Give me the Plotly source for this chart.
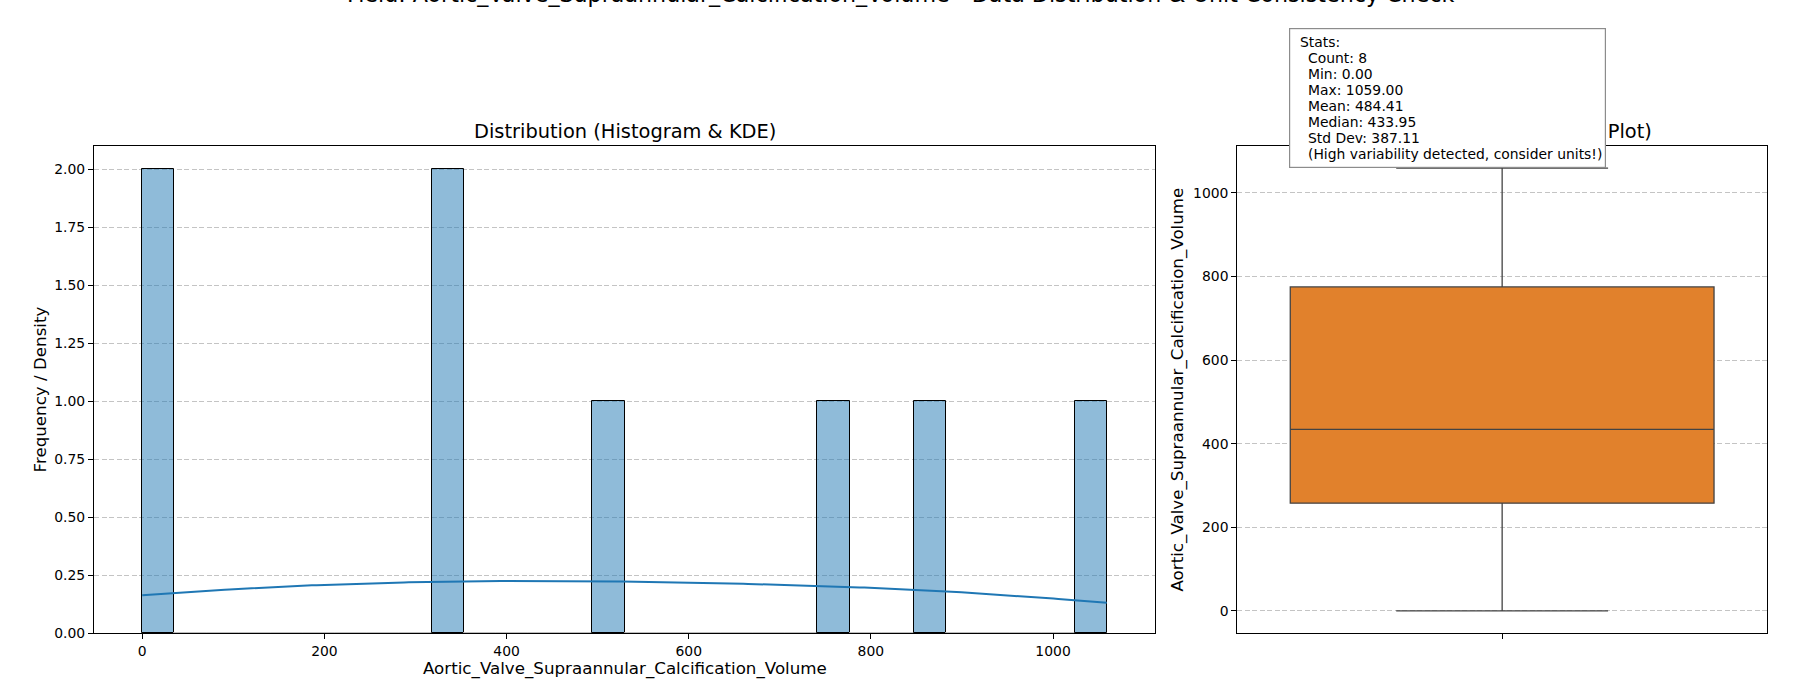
import numpy as np
import plotly.graph_objects as go

# ---------------- data ----------------
field = "Aortic_Valve_Supraannular_Calcification_Volume"
values = [0.0, 0.0, 343.6, 343.8, 524.1, 747.1, 857.7, 1059.0]
n_bins = 30
main_title = f"Field: {field} - Data Distribution & Unit Consistency Check"
hist_title = "Distribution (Histogram & KDE)"
box_title = "Variability & Outliers (Box Plot)"
hist_ylabel = "Frequency / Density"
warning_text = "(High variability detected, consider units!)"

# ---------------- derived ----------------
arr = np.array(values, dtype=float)
n = len(arr)
counts, edges = np.histogram(arr, bins=n_bins, range=(arr.min(), arr.max()))
centers = (edges[:-1] + edges[1:]) / 2
bw = edges[1] - edges[0]

std = arr.std(ddof=1)
h = std * n ** (-1 / 5)  # Scott's rule
xs = np.linspace(arr.min(), arr.max(), 200)
dens = np.exp(-0.5 * ((xs[:, None] - arr[None, :]) / h) ** 2).sum(1) / (n * h * np.sqrt(2 * np.pi))
kde = dens * n * bw

q1, med, q3 = np.percentile(arr, [25, 50, 75])
iqr = q3 - q1
lo = arr[arr >= q1 - 1.5 * iqr].min()
hi = arr[arr <= q3 + 1.5 * iqr].max()

span = arr.max() - arr.min()
xr = [arr.min() - 0.05 * span, arr.max() + 0.05 * span]
yr_hist = [0, counts.max() * 1.05]

stats_lines = [
    "Stats:",
    f"Count: {n}",
    f"Min: {arr.min():.2f}",
    f"Max: {arr.max():.2f}",
    f"Mean: {arr.mean():.2f}",
    f"Median: {np.median(arr):.2f}",
    f"Std Dev: {std:.2f}",
    warning_text,
]

# ---------------- layout helpers ----------------
W, H = 1800, 700
L, R, T, B = 94, 33, 146, 67
pw, ph = W - L - R, H - T - B


def px(x):
    return (x - L) / pw


def py(y):
    return (H - B - y) / ph


FONT = "DejaVu Sans"
TICK = 13.9
grid = dict(showgrid=True, gridcolor="#c4c4c4", griddash="5px,2.5px", gridwidth=1)
axis_common = dict(showline=True, mirror=True, linecolor="black", linewidth=1.1,
                   ticks="outside", ticklen=5, tickwidth=1.1, tickcolor="black",
                   tickfont=dict(family=FONT, size=TICK, color="black"), zeroline=False)

edge_colors = ["black" if c > 0 else "#bdbdbd" for c in counts]

fig = go.Figure()
fig.add_trace(go.Bar(x=centers, y=counts, width=bw, xaxis="x", yaxis="y",
                     marker=dict(color="rgba(31,119,180,0.5)", line=dict(color=edge_colors, width=1)),
                     hoverinfo="x+y"))
fig.add_trace(go.Scatter(x=xs, y=kde, mode="lines", xaxis="x", yaxis="y",
                         line=dict(color="#1f77b4", width=2)))
fig.add_trace(go.Box(x=[0], q1=[q1], median=[med], q3=[q3], lowerfence=[lo], upperfence=[hi],
                     xaxis="x2", yaxis="y2", width=0.8, whiskerwidth=0.5, boxpoints=False,
                     fillcolor="#e1812c", line=dict(color="#434343", width=1.3)))

annotations = [
    dict(text=main_title, x=px(900), y=py(-6), font=dict(size=22.2)),
    dict(text=hist_title, x=px(624.5), y=py(132), font=dict(size=19.4)),
    dict(text=box_title, x=px(1502), y=py(132), font=dict(size=19.4)),
    dict(text=field, x=px(624.5), y=py(668), font=dict(size=16.7)),
    dict(text=hist_ylabel, x=px(39), y=py(389.5), font=dict(size=16.7), textangle=-90),
    dict(text=field, x=px(1177), y=py(389.5), font=dict(size=16.7), textangle=-90),
    # stats box background
    dict(text=" ", x=px(1289), y=py(28.5), xanchor="left", yanchor="top", width=315, height=138,
         bgcolor="white", bordercolor="#8c8c8c", borderwidth=1.2, borderpad=0, font=dict(size=10)),
]
for i, line in enumerate(stats_lines):
    annotations.append(dict(text=line, x=px(1297.7 if i == 0 else 1305.5), y=py(41.5 + i * 16.1),
                            xanchor="left", font=dict(size=TICK)))

for a in annotations:
    a.setdefault("xanchor", "center")
    a.setdefault("yanchor", "middle")
    a.update(xref="paper", yref="paper", showarrow=False)
    a["font"] = dict(family=FONT, color="black", **a["font"])

fig.update_layout(
    width=W, height=H, margin=dict(l=L, r=R, t=T, b=B, autoexpand=False),
    paper_bgcolor="white", plot_bgcolor="white", showlegend=False,
    font=dict(family=FONT, color="black"),
    bargap=0,
    xaxis=dict(domain=[0, px(1155)], range=xr, dtick=200, tick0=0, anchor="y", showgrid=False, **axis_common),
    yaxis=dict(domain=[0, 1], range=yr_hist, dtick=0.25, tick0=0, tickformat=".2f", anchor="x", **grid, **axis_common),
    xaxis2=dict(domain=[px(1237.3), 1], range=[-0.5, 0.5], tickvals=[0], ticktext=[""], anchor="y2",
                showgrid=False, **axis_common),
    yaxis2=dict(domain=[0, 1], range=xr, dtick=200, tick0=0, anchor="x2", **grid, **axis_common),
    annotations=annotations,
)

fig.write_html("out.html", config={"displayModeBar": False},
               post_script="document.body.style.margin='0px';document.body.style.overflow='hidden';")
